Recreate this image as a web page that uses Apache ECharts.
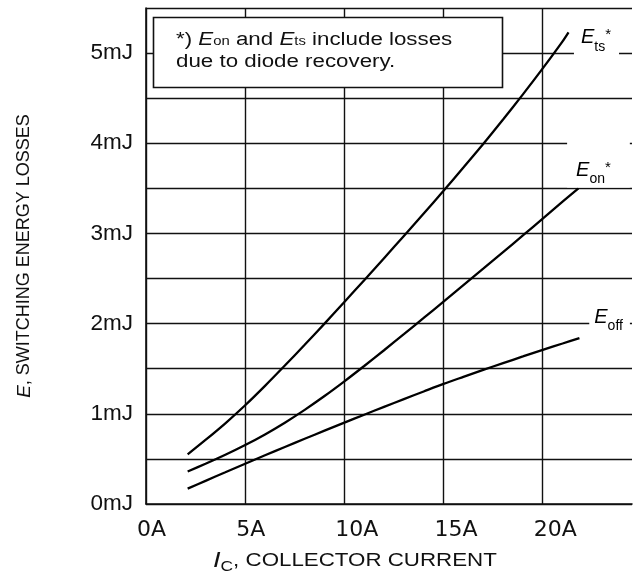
<!DOCTYPE html>
<html>
<head>
<meta charset="utf-8">
<script src="https://cdn.jsdelivr.net/npm/echarts@6/dist/echarts.min.js"></script>
<style>
html,body{margin:0;padding:0;background:#fff;}
#chart{width:635px;height:576px;}
</style>
</head>
<body>
<div id="chart"></div>
<script>
// ---- data (collector current in A, energy in mJ) ----
const etsCurve = [[2.1,0.55],[3,0.71],[4,0.895],[5,1.095],[6,1.31],[7,1.535],[8,1.765],[9,2.0],[10,2.24],[11,2.482],[12,2.726],[13,2.972],[14,3.221],[15,3.474],[16,3.731],[17,3.993],[18,4.263],[19,4.542],[20,4.83],[21,5.13],[21.3,5.23]];
const eonCurve = [[2.1,0.36],[3,0.446],[4,0.546],[5,0.654],[6,0.772],[7,0.902],[8,1.044],[9,1.197],[10,1.36],[11,1.53],[12,1.705],[13,1.883],[14,2.063],[15,2.244],[16,2.426],[17,2.609],[18,2.793],[19,2.978],[20,3.164],[21,3.352],[21.8,3.5]];
const eoffCurve = [[2.1,0.17],[3,0.257],[4,0.352],[5,0.447],[6,0.54],[7,0.632],[8,0.723],[9,0.813],[10,0.902],[11,0.99],[12,1.077],[13,1.163],[14,1.248],[15,1.332],[16,1.41],[17,1.487],[18,1.562],[19,1.636],[20,1.71],[21,1.78],[21.85,1.84]];
const xTickLabels = ['0A','5A','10A','15A','20A'];
const yTickLabels = ['0mJ','1mJ','2mJ','3mJ','4mJ','5mJ'];
const curveNames = ['ts','on','off'];
const noteLine1 = ['*) ', 'E', 'on', ' and ', 'E', 'ts', ' include losses'];
const noteLine2 = 'due to diode recovery.';
const xTitle = ['I', 'C', ', COLLECTOR CURRENT'];
const yTitle = ['E', ', SWITCHING ENERGY LOSSES'];

const FF = '"Liberation Sans", Arial, Helvetica, sans-serif';
const FF2 = '"DejaVu Sans", "Liberation Sans", sans-serif';
const INK = '#111';

const chart = echarts.init(document.getElementById('chart'), null, {renderer: 'canvas'});

const curveLabelRich = {
  e: {fontFamily: FF, fontSize: 20, fontStyle: 'italic', color: '#000', verticalAlign: 'top', lineHeight: 26},
  s: {fontFamily: FF, fontSize: 14, color: '#000', verticalAlign: 'bottom'},
  p: {fontFamily: FF, fontSize: 15, color: '#000', verticalAlign: 'top'}
};

function labelPoint(x, y, name, star, padding) {
  return {
    value: [x, y],
    label: {
      show: true,
      position: 'inside',
      color: '#000',
      formatter: '{e|E}{s|' + name + '}' + (star ? '{p|*}' : ''),
      backgroundColor: '#fff',
      padding: padding,
      rich: curveLabelRich
    }
  };
}

const lineStyle = {color: '#000', width: 2.3};

const option = {
  animation: false,
  backgroundColor: '#fff',
  grid: {left: 146, top: 8, right: 1.5, bottom: 72, show: false},
  xAxis: {
    type: 'value', min: 0, max: 24.5, interval: 5,
    axisLine: {show: true, lineStyle: {color: INK, width: 1.6}},
    axisTick: {show: false},
    splitLine: {show: true, showMaxLine: false, lineStyle: {color: INK, width: 1.4}},
    axisLabel: {
      fontFamily: FF2, fontSize: 22, color: INK, margin: 15,
      align: 'left', padding: [0, 0, 0, -9],
      formatter: v => (v % 5 === 0 && v / 5 < xTickLabels.length) ? xTickLabels[v / 5] : ''
    }
  },
  yAxis: {
    type: 'value', min: 0, max: 5.5, interval: 0.5,
    axisLine: {show: true, lineStyle: {color: INK, width: 1.6}},
    axisTick: {show: false},
    splitLine: {show: true, lineStyle: {color: INK, width: 1.4}},
    axisLabel: {
      fontFamily: FF, fontSize: 22.5, color: INK, margin: 13, padding: [4, 0, 0, 0],
      formatter: v => (Math.abs(v - Math.round(v)) < 1e-9 && Math.round(v) < yTickLabels.length) ? yTickLabels[Math.round(v)] : ''
    },
    name: '{i|' + yTitle[0] + '}' + yTitle[1],
    nameLocation: 'middle', nameRotate: 90, nameGap: 112,
    nameTextStyle: {
      fontFamily: FF, fontSize: 18, color: INK,
      rich: {i: {fontFamily: FF, fontSize: 19, fontStyle: 'italic', color: INK}}
    }
  },
  series: [
    {name: 'Ets', type: 'line', data: etsCurve, showSymbol: false, smooth: 0.3, lineStyle: lineStyle, z: 3},
    {name: 'Eon', type: 'line', data: eonCurve, showSymbol: false, smooth: 0.3, lineStyle: lineStyle, z: 3},
    {name: 'Eoff', type: 'line', data: eoffCurve, showSymbol: false, smooth: 0.3, lineStyle: lineStyle, z: 3},
    {
      name: 'labels', type: 'scatter', symbolSize: 0, silent: true, z: 5,
      itemStyle: {opacity: 1},
      data: [
        labelPoint(22.71, 5.12, curveNames[0], true, [1, 8, 4, 7]),
        labelPoint(22.81, 3.77, curveNames[1], true, [20, 19, 1, 9]),
        labelPoint(23.37, 2.04, curveNames[2], false, [1, 7, 1, 5])
      ]
    }
  ],
  graphic: [
    {
      type: 'rect', z: 100,
      shape: {x: 153.5, y: 17.5, width: 349, height: 70},
      style: {fill: '#fff', stroke: INK, lineWidth: 1.6}
    },
    {
      type: 'text', z: 101, x: 176, y: 28.7, scaleX: 1.24,
      style: {
        text: '{n|' + noteLine1[0] + '}{i|' + noteLine1[1] + '}{s|' + noteLine1[2] + '}{n|' + noteLine1[3] + '}{i|' + noteLine1[4] + '}{s|' + noteLine1[5] + '}{n|' + noteLine1[6] + '}\n{n|' + noteLine2 + '}',
        align: 'left', verticalAlign: 'top', fill: INK,
        rich: {
          n: {fontFamily: FF, fontSize: 18, lineHeight: 22, fill: INK, color: INK},
          i: {fontFamily: FF, fontSize: 18, fontStyle: 'italic', lineHeight: 22, fill: INK, color: INK},
          s: {fontFamily: FF, fontSize: 12, verticalAlign: 'bottom', padding: [0, 0, 3, 0], fill: INK, color: INK}
        }
      }
    },
    {
      type: 'text', z: 101, x: 213, y: 547.7, scaleX: 1.24,
      style: {
        text: '{i|' + xTitle[0] + '}{s|' + xTitle[1] + '}{n|' + xTitle[2] + '}',
        align: 'left', verticalAlign: 'top', fill: INK,
        rich: {
          i: {fontFamily: FF, fontSize: 22, fontStyle: 'italic', lineHeight: 26, fill: INK, color: INK},
          s: {fontFamily: FF, fontSize: 14, verticalAlign: 'bottom', fill: INK, color: INK},
          n: {fontFamily: FF, fontSize: 18, fill: INK, color: INK}
        }
      }
    }
  ]
};

chart.setOption(option);
</script>
</body>
</html>
